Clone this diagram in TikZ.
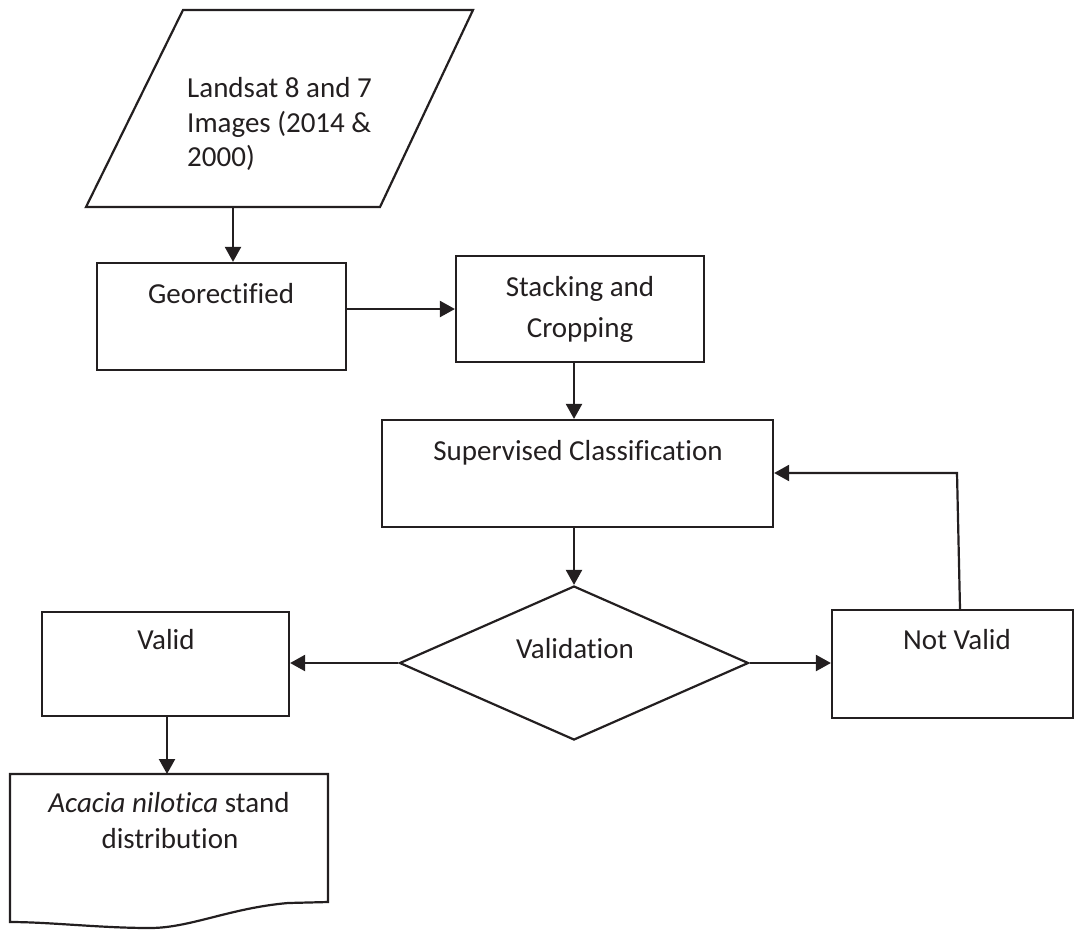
\documentclass[tikz,border=0pt]{standalone}
\usepackage{fontspec}
\setmainfont{Carlito}[RawFeature=-liga]
\usetikzlibrary{shapes.geometric,arrows.meta}
\definecolor{ink}{HTML}{231F20}
\tikzset{
  every node/.style={font=\fontsize{29}{35}\selectfont, text=ink},
  box/.style={draw=ink, line width=2.2pt, rectangle, inner sep=0pt},
  dec/.style={draw=ink, line width=2.2pt, diamond, inner sep=0pt},
  txt/.style={anchor=base, inner sep=0pt},
  shapeline/.style={draw=ink, line width=2.2pt, line join=miter},
  arr/.style={draw=ink, line width=2.2pt, -{Triangle[length=15pt,width=16pt]}},
}
\begin{document}
\begin{tikzpicture}[x=1pt,y=-1pt]
\useasboundingbox (0,0) rectangle (1075,930);
% input parallelogram
\draw[shapeline] (183,10) -- (473,10) -- (380,207) -- (86,207) -- cycle;
\coordinate (landbot) at (233,207);
\node[txt, anchor=base west] (l1) at (187,97) {Landsat 8 and 7};
\node[txt, anchor=base west] (l2) at (187,132) {Images (2014 \&};
\node[txt, anchor=base west] (l3) at (187,166) {2000)};
% boxes
\node[box, minimum width=249pt, minimum height=107pt] (geo) at (221.5,316.5) {};
\node[box, minimum width=248pt, minimum height=106pt] (st) at (580,309) {};
\node[box, minimum width=391pt, minimum height=107pt] (sup) at (577.5,473.5) {};
\node[dec, minimum width=349pt, minimum height=154pt] (dia) at (574,663) {};
\node[box, minimum width=247pt, minimum height=104pt] (val) at (165.5,664) {};
\node[box, minimum width=241pt, minimum height=108pt] (nv) at (952.5,664) {};
% document
\draw[shapeline] (10,774) -- (328,774) -- (328,902) -- (288,903)
  .. controls (230,908) and (190,928) .. (150,928)
  .. controls (100,928) and (50,922) .. (10,922) -- cycle;
\coordinate (doctop) at (167,774);
% texts
\node[txt] (geot) at (221,303) {Georectified};
\node[txt] (st1) at (580,296) {Stacking and};
\node[txt] (st2) at (580,337) {Cropping};
\node[txt] (supt) at (578,460) {Supervised Classification};
\node[txt] (diat) at (575,658) {Validation};
\node[txt] (valt) at (166,649) {Valid};
\node[txt] (nvt) at (957,649) {Not Valid};
\node[txt] (d1) at (169,812) {\textit{Acacia nilotica} stand};
\node[txt] (d2) at (170,848) {distribution};
% connectors
\draw[arr] (landbot) -- (landbot |- geo.north);
\draw[arr] (geo.east |- st.west) -- (st.west);
\draw[arr] (st.south -| dia.north) -- (sup.north -| dia.north);
\draw[arr] (sup.south -| dia.north) -- (dia.north);
\draw[arr] (dia.west) -- (dia.west -| val.east);
\draw[arr] (dia.east) -- (dia.east -| nv.west);
\draw[arr] (val.south -| doctop) -- (doctop);
\coordinate (fb) at (957,473);
\draw[arr] ([xshift=7.5pt]nv.north) -- (fb) -- (fb -| sup.east);
\end{tikzpicture}
\end{document}
